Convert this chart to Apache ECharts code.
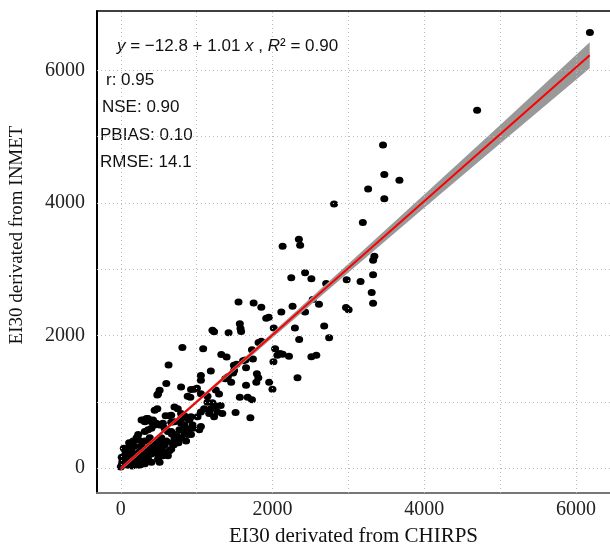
<!DOCTYPE html>
<html>
<head>
<meta charset="utf-8">
<script src="https://cdn.jsdelivr.net/npm/echarts@6/dist/echarts.min.js"></script>
<style>
  html, body { margin: 0; padding: 0; background: #fff; }
  #chart { width: 610px; height: 552px; }
</style>
</head>
<body>
<div id="chart"></div>
<script>
// observed pairs: [CHIRPS, INMET]
const points = [
  [6182,6574],[4696,5399],[3456,4874],[3473,4429],[3672,4341],[3260,4209],[3473,4062],[2811,3983],
  [3190,3704],[3342,3196],[3325,3137],[2707,2785],[2977,2843],[3160,2814],[3325,2917],[3307,2647],
  [3325,2485],[2968,2422],[3003,2388],
  [2347,3454],[2133,3347],[2364,3362],[2247,2873],[2429,2946],[2512,2858],[1552,2506],[1751,2491],
  [1852,2427],[2530,2544],[2612,2471],[2264,2441],[2116,2353],[2429,2353],[1917,2261],[1951,2275],
  [1569,2177],[1578,2104],[1586,2060],[1421,2040],[2016,2114],[2295,2114],[2681,2143],[2746,1967],
  [2351,1938],[2034,1801],[1816,1894],[1852,1913],[1729,1786],
  [1208,2080],[1230,2055],[812,1820],[1086,1801],[630,1556],[1325,1713],[1395,1674],[1491,1552],
  [1526,1566],[1612,1619],[1643,1629],[1742,1644],[2012,1605],[2064,1703],[2099,1728],[1651,1512],
  [1494,1472],[1481,1434],[1187,1464],[1056,1395],[1056,1326],[1412,1376],[1377,1346],[1455,1296],
  [1794,1424],[1813,1361],[1786,1296],[1956,1296],[1999,1189],[1651,1248],[600,1277],[795,1223],
  [512,1174],[482,1101],[926,1185],[969,1189],[1004,1204],[882,1082],[917,1067],[1056,1120],
  [1252,1179],[1295,1116],[1143,1082],[1569,1067],[1673,1067],[1729,1032],[1513,837],[1708,759],
  [708,920],[751,895],[482,895],[643,788],
  [1143,994],[1208,984],[1252,935],[1317,944],[1187,895],[1099,895],[1056,847],[1273,847],
  [1165,822],[1338,822],[1012,774],[1230,774],
  [2134,1718],[2217,1688],[2512,1678],[2577,1703],[2329,1361],
  [447,871],[591,788],[300,724],[339,749],[425,724],[469,675],[512,650],[404,602],[360,577],
  [209,455],[543,407],[512,357],[578,348],[578,210],[861,602],[838,528],[882,504],[1056,627],
  [1034,577],[947,602],[673,514],[708,455],[751,407],[673,382],[578,602],[621,553],[795,822],
  [838,788],[882,749],[926,774],[795,675],[665,690],
  [491,1116],[274,724],[317,700],[360,749],[404,700],[447,650],[555,675],[665,797],[708,700],
  [795,749],[838,650],[773,577],[904,724],[947,650],[882,553],[926,504],[665,553],[730,504],
  [795,455],[861,407],[534,455],[600,407],[555,333],[491,283],[164,407],[230,504],[317,553],
  [382,455],[317,407],[404,382],[274,333],[360,308],[447,308],[404,210],[491,210],[317,210],
  [360,137],[274,161],[230,113],[209,210],[143,260],[99,210],[121,333],[78,283],[56,137],
  [34,88],[99,88],[164,63],[13,40],[0,15],[186,137],[230,40],[295,88],[56,186],[13,161],
  [578,235],[665,283],[621,186],[317,63],[404,88],[491,137],[555,186],[512,88],
  [700,350],[760,380],[640,260],
  [50,60],[80,120],[120,150],[150,100],[180,200],[200,160],[250,250],[250,180],[280,270],
  [300,150],[340,230],[350,300],[380,260],[420,320],[450,250],[470,400],[520,300],[530,250],
  [100,40],[150,30],[200,60],[260,50],[20,90],[60,240],[40,300],[110,380],[180,330],[240,420]
];

// fitted line y = -12.8 + 1.01x and its confidence band
const fitX = [0, 6180];
const fitY = [-12.8, 6229];
const bandX = [0, 1000, 2000, 3000, 4000, 5000, 6180];
const bandLo = [-43, 972, 1967, 2952, 3927, 4897, 6034];
const bandHi = [17, 1022, 2047, 3082, 4127, 5177, 6424];

const tickLabels = [0, 2000, 4000, 6000];
const gridLines = [0, 1000, 2000, 3000, 4000, 5000, 6000];

const stats = ['r: 0.95', 'NSE: 0.90', 'PBIAS: 0.10', 'RMSE: 14.1'];

const chart = echarts.init(document.getElementById('chart'));

const serif = 'Liberation Serif';
const sans = 'Liberation Sans';

chart.setOption({
  animation: false,
  grid: { left: 92, right: 0, top: 11, bottom: 45 },
  xAxis: [{
    type: 'value',
    min: -313,
    max: 6447,
    name: 'EI30 derivated from CHIRPS',
    nameLocation: 'middle',
    nameGap: 33,
    nameTextStyle: { fontFamily: serif, fontSize: 21, color: '#111' },
    axisLine: { show: true, onZero: false, lineStyle: { color: '#777', width: 2 } },
    axisTick: { show: false },
    splitLine: { show: false },
    axisLabel: {
      customValues: tickLabels,
      formatter: v => String(v),
      fontFamily: serif, fontSize: 20, color: '#222', margin: 7
    }
  }, {
    type: 'value',
    position: 'top',
    min: -313,
    max: 6447,
    axisLine: { show: true, onZero: false, lineStyle: { color: '#000', width: 1.5 } },
    axisTick: { show: false },
    axisLabel: { show: false },
    splitLine: { show: false }
  }],
  yAxis: {
    type: 'value',
    min: -377,
    max: 6897,
    name: 'EI30 derivated from INMET',
    nameLocation: 'middle',
    nameGap: 70,
    nameTextStyle: { fontFamily: serif, fontSize: 19, color: '#111', padding: [0, 0, 0, 34] },
    axisLine: { show: true, onZero: false, lineStyle: { color: '#000', width: 2 } },
    axisTick: { show: false },
    splitLine: { show: false },
    axisLabel: {
      customValues: tickLabels,
      formatter: v => String(v),
      fontFamily: serif, fontSize: 20, color: '#222', margin: 12
    }
  },
  series: [
    {
      type: 'line',
      data: [],
      z: 1,
      silent: true,
      markLine: {
        silent: true,
        symbol: ['none', 'none'],
        label: { show: false },
        lineStyle: { type: [1, 3], color: '#bbb', width: 1 },
        data: gridLines.map(v => ({ xAxis: v })).concat(gridLines.map(v => ({ yAxis: v })))
      }
    },
    {
      type: 'scatter',
      data: points,
      z: 3,
      symbol: 'circle',
      symbolSize: [8, 7],
      itemStyle: { color: '#000', opacity: 1 }
    },
    {
      type: 'custom',
      z: 4,
      silent: true,
      data: bandX.map((x, i) => [x, bandLo[i], bandHi[i]]),
      renderItem: (params, api) => {
        if (params.dataIndex !== 0) return;
        const upper = bandX.map((x, i) => api.coord([x, bandHi[i]]));
        const lower = bandX.map((x, i) => api.coord([x, bandLo[i]])).reverse();
        return {
          type: 'polygon',
          shape: { points: upper.concat(lower) },
          style: { fill: '#999999' }
        };
      }
    },
    {
      type: 'line',
      z: 5,
      data: fitX.map((x, i) => [x, fitY[i]]),
      showSymbol: false,
      silent: true,
      lineStyle: { color: '#ff0000', width: 2 }
    }
  ],
  graphic: [
    {
      type: 'text',
      left: 117,
      top: 38,
      style: {
        text: '{i|y} = \u221212.8 + 1.01 {i|x} , {i|R}\u00b2 = 0.90',
        fontFamily: sans,
        fontSize: 17,
        fill: '#111',
        rich: { i: { fontStyle: 'italic', fontFamily: sans, fontSize: 17, fill: '#111' } }
      }
    },
    ...stats.map((s, i) => ({
      type: 'text',
      left: i === 0 ? 106 : (i === 1 ? 102 : 100),
      top: 72 + i * 27.2,
      style: { text: s, fontFamily: sans, fontSize: 17, fill: '#111' }
    }))
  ]
});
</script>
</body>
</html>
